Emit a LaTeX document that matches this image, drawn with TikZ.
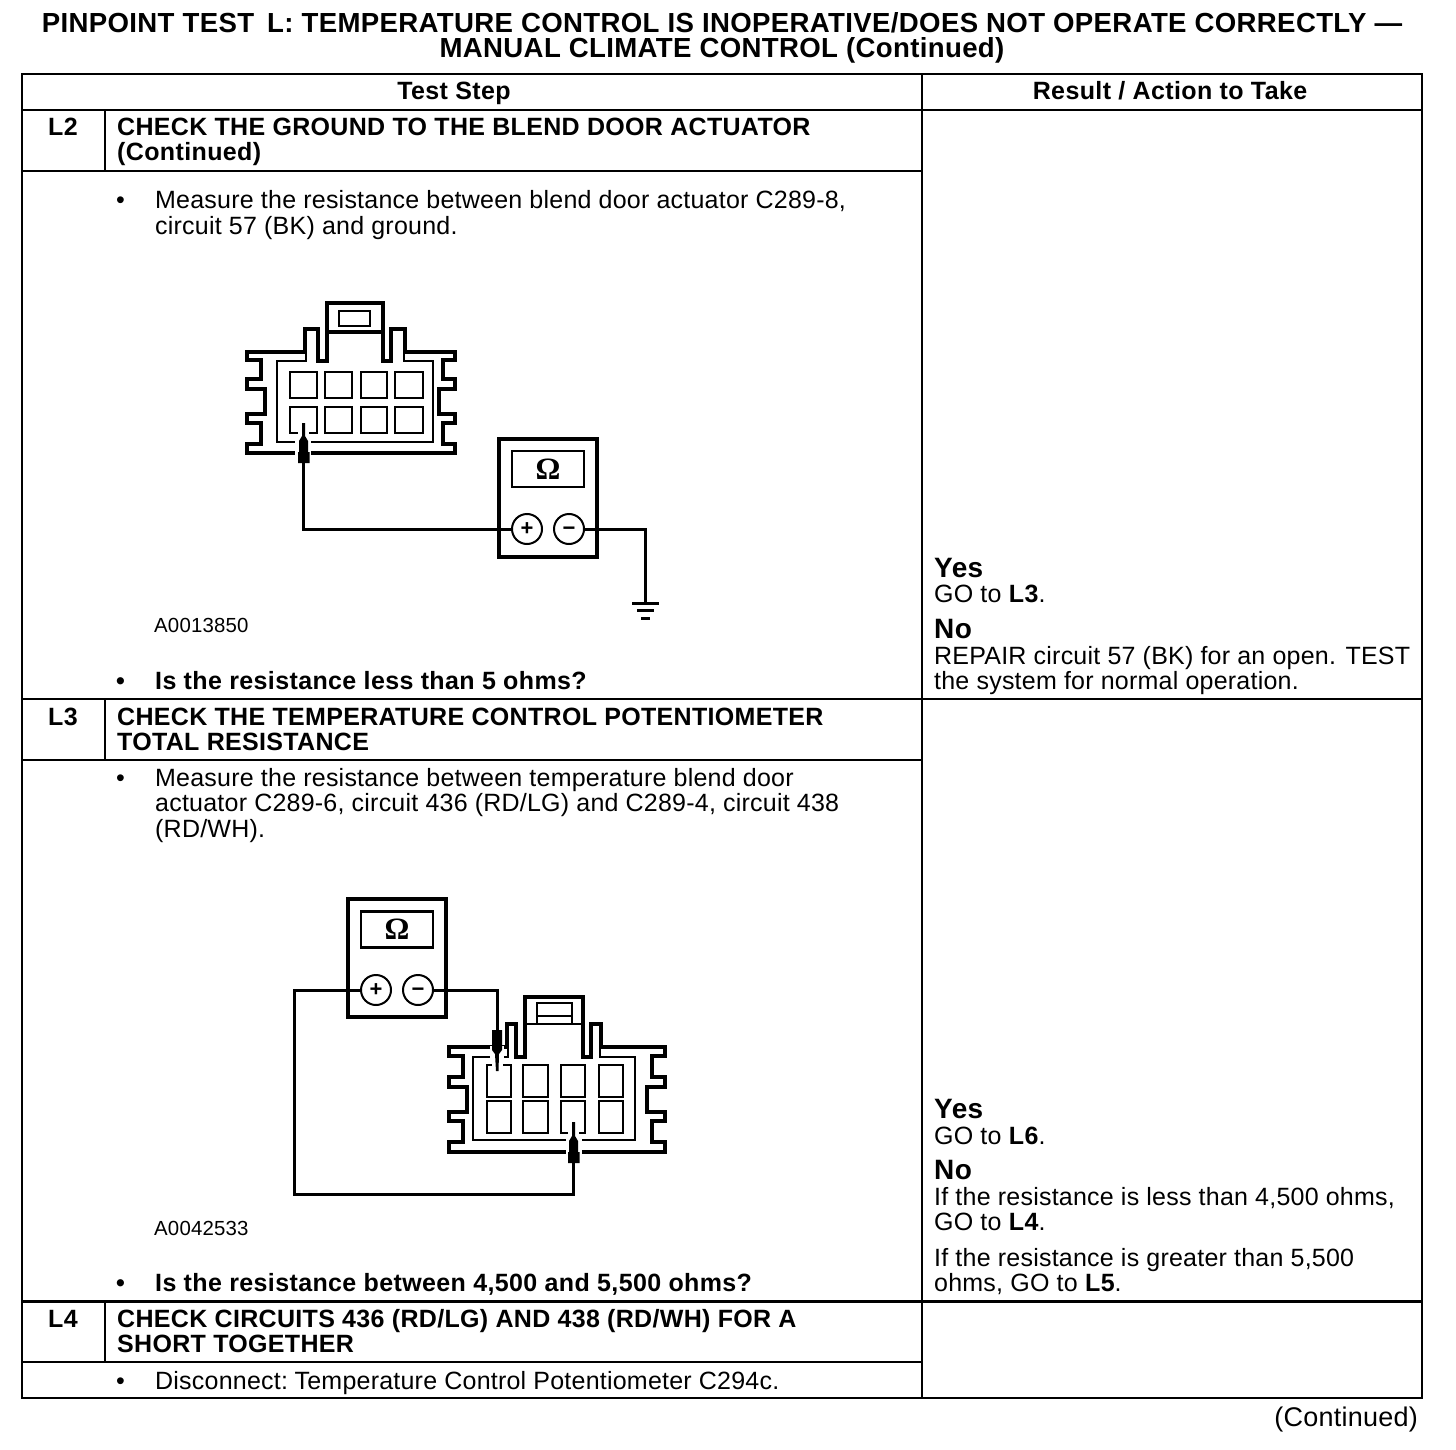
\documentclass[tikz,border=0pt]{standalone}
\usepackage{fontspec}
\setmainfont{Liberation Sans}[LetterSpace=0.9,BoldFeatures={LetterSpace=1.5}]
\newfontfamily\capb{Liberation Sans Bold}[LetterSpace=1.3]
\newfontfamily\titleb{Liberation Sans Bold}[LetterSpace=1.25]
\newfontfamily\omegaf{Liberation Serif Bold}
\begin{document}
\begin{tikzpicture}[x=1pt,y=-1pt,
  txt/.style={inner sep=0pt,anchor=base west,font=\fontsize{25}{25}\selectfont},
  btxt/.style={inner sep=0pt,anchor=base west,font=\fontsize{25}{25}\selectfont\bfseries},
  captxt/.style={inner sep=0pt,anchor=base west,font=\fontsize{25}{25}\selectfont\capb},
  bigb/.style={inner sep=0pt,anchor=base west,font=\fontsize{28}{28}\selectfont\bfseries},
  code/.style={inner sep=0pt,anchor=base west,font=\fontsize{20.4}{22}\selectfont},
  hdr/.style={inner sep=0pt,anchor=base,font=\fontsize{25}{25}\selectfont\bfseries},
  ttl/.style={inner sep=0pt,anchor=base,font=\fontsize{27.6}{28}\selectfont\titleb},
  rule/.style={line width=2pt},
  wire/.style={line width=3pt,line join=miter},
  outer/.style={line width=3.6pt,line join=miter},
  inner/.style={line width=2pt},
  cav/.style={line width=2.4pt},
  meter/.style={draw,line width=3.4pt,inner sep=0pt,minimum width=98pt,minimum height=118pt},
  disp/.style={draw,line width=2.2pt,inner sep=0pt,minimum width=72pt,minimum height=36pt,font=\fontsize{31}{31}\selectfont\omegaf},
  term/.style={draw,circle,line width=2pt,fill=white,inner sep=0pt,minimum size=30pt,font=\fontsize{22}{22}\selectfont\bfseries},
  probe/.style={fill=black,draw=none},
  gapw/.style={draw=white,line width=16pt},
  gapn/.style={draw=white,line width=11pt}]
\useasboundingbox (0,0) rectangle (1456,1450);
\fill[white] (0,0) rectangle (1456,1450);
% title
\node[ttl] (t1) at (722,33) {PINPOINT TEST\hspace{5pt} L: TEMPERATURE CONTROL IS INOPERATIVE/DOES NOT OPERATE CORRECTLY —};
\node[ttl] (t2) at (722,58) {MANUAL CLIMATE CONTROL (Continued)};
% table
\draw[rule] (22,74) rectangle (1422,1398);
\draw[rule] (922,74) -- (922,1398);
\draw[rule] (22,110) -- (1422,110);
\draw[rule] (105,110) -- (105,171);
\draw[rule] (22,171) -- (922,171);
\draw[rule] (22,699) -- (1422,699);
\draw[rule] (105,699) -- (105,760);
\draw[rule] (22,760) -- (922,760);
\draw[line width=3pt] (22,1301) -- (1422,1301);
\draw[rule] (105,1301) -- (105,1362);
\draw[rule] (22,1362) -- (922,1362);
\node[hdr] (h1) at (454,100) {Test Step};
\node[hdr] (h2) at (1170,100) {Result / Action to Take};
% L2
\node[hdr] (l2) at (63,136) {L2};
\node[captxt] (l2a) at (117,136) {CHECK THE GROUND TO THE BLEND DOOR ACTUATOR};
\node[btxt] (l2b) at (117,161) {(Continued)};
\node[txt] (b1) at (116,208) {•};
\node[txt] (m1) at (155,208) {Measure the resistance between blend door actuator C289-8,};
\node[txt] (m2) at (155,234) {circuit 57 (BK) and ground.};
\node[code] (c1) at (154,632) {A0013850};
\node[btxt] (b2) at (116,689) {•};
\node[btxt] (q1) at (155,689) {Is the resistance less than 5 ohms?};
\node[bigb] (y1) at (934,577) {Yes};
\node[txt] (y1a) at (934,602) {GO to \textbf{L3}.};
\node[bigb] (n1) at (934,638) {No};
\node[txt] (n1a) at (934,664) {REPAIR circuit 57 (BK) for an open. TEST};
\node[txt] (n1b) at (934,689) {the system for normal operation.};
% L3
\node[hdr] (l3) at (63,725) {L3};
\node[captxt] (l3a) at (117,725) {CHECK THE TEMPERATURE CONTROL POTENTIOMETER};
\node[captxt] (l3b) at (117,750) {TOTAL RESISTANCE};
\node[txt] (b3) at (116,786) {•};
\node[txt] (m3) at (155,786) {Measure the resistance between temperature blend door};
\node[txt] (m4) at (155,811) {actuator C289-6, circuit 436 (RD/LG) and C289-4, circuit 438};
\node[txt] (m5) at (155,837) {(RD/WH).};
\node[code] (c2) at (154,1235) {A0042533};
\node[btxt] (b4) at (116,1291) {•};
\node[btxt] (q2) at (155,1291) {Is the resistance between 4,500 and 5,500 ohms?};
\node[bigb] (y2) at (934,1118) {Yes};
\node[txt] (y2a) at (934,1144) {GO to \textbf{L6}.};
\node[bigb] (n2) at (934,1179) {No};
\node[txt] (n2a) at (934,1205) {If the resistance is less than 4,500 ohms,};
\node[txt] (n2b) at (934,1230) {GO to \textbf{L4}.};
\node[txt] (n2c) at (934,1266) {If the resistance is greater than 5,500};
\node[txt] (n2d) at (934,1291) {ohms, GO to \textbf{L5}.};
% L4
\node[hdr] (l4) at (63,1327) {L4};
\node[captxt] (l4a) at (117,1327) {CHECK CIRCUITS 436 (RD/LG) AND 438 (RD/WH) FOR A};
\node[captxt] (l4b) at (117,1352) {SHORT TOGETHER};
\node[txt] (b5) at (116,1389) {•};
\node[txt] (m6) at (155,1389) {Disconnect:\hspace{-3pt} Temperature Control Potentiometer C294c.};
\node[txt,anchor=base east,font=\fontsize{27}{27}\selectfont] (cont) at (1418,1426) {(Continued)};
% connector 1
\draw[outer] (247,352) -- (247,360) -- (261,360) -- (261,379) -- (247,379) -- (247,389) -- (265,389) -- (265,414) -- (247,414) -- (247,423) -- (261,423) -- (261,444) -- (247,444) -- (247,453) -- (455,453) -- (455,444) -- (443,444) -- (443,423) -- (455,423) -- (455,414) -- (439,414) -- (439,389) -- (455,389) -- (455,379) -- (443,379) -- (443,360) -- (455,360) -- (455,352) -- (405,352) -- (405,329) -- (391,329) -- (391,361) -- (383,361) -- (383,303) -- (327,303) -- (327,361) -- (318,361) -- (318,329) -- (305,329) -- (305,352) -- cycle;
\draw[outer] (327,332) -- (383,332);
\draw[cav] (339,311) rectangle (370,326);
\draw[inner] (306,352) -- (306,361) -- (277,361) -- (277,442) -- (433,442) -- (433,361) -- (404,361) -- (404,352);
\foreach \x/\w in {290/317,325/352,361/387,395/423}{
  \draw[cav] (\x,372) rectangle (\w,398);
  \draw[cav] (\x,407) rectangle (\w,433);
}
\draw[gapn] (303,428) -- (303,438);
\draw[gapw] (303,438) -- (303,458);
% meter 1
\node[meter] (mt1) at (548,498) {};
\node[disp] (d1) at (548,469) {Ω};
\node[term] (p1) at (527,529) {\vphantom{+}+};
\node[term] (n1t) at (569,529) {\vphantom{+}−};
\coordinate (tip1) at (303,463);
\coordinate (g1) at (645,603);
\draw[wire] (p1.west) -- (303,529) -- (tip1);
\draw[wire] (n1t.east) -- (645,529) -- (g1);
\draw[probe] (302,423) -- (305,423) -- (305,436) -- (308,441) -- (308,452) -- (309.5,452) -- (309.5,463) -- (298,463) -- (298,452) -- (299,452) -- (299,441) -- (302,436) -- cycle;
\draw[line width=3pt] (632,603) -- (659,603);
\draw[line width=3pt] (637,610.5) -- (654,610.5);
\draw[line width=3pt] (641,618) -- (650,618);
% connector 2
\draw[outer] (449,1047) -- (449,1056) -- (463,1056) -- (463,1077) -- (449,1077) -- (449,1087) -- (467,1087) -- (467,1112) -- (449,1112) -- (449,1121) -- (463,1121) -- (463,1142) -- (449,1142) -- (449,1152) -- (665,1152) -- (665,1142) -- (652,1142) -- (652,1121) -- (665,1121) -- (665,1112) -- (647,1112) -- (647,1087) -- (665,1087) -- (665,1077) -- (652,1077) -- (652,1056) -- (665,1056) -- (665,1047) -- (601,1047) -- (601,1024) -- (591,1024) -- (591,1057) -- (583,1057) -- (583,997) -- (525,997) -- (525,1057) -- (516,1057) -- (516,1024) -- (507,1024) -- (507,1047) -- cycle;
\draw[inner] (525,1024) -- (583,1024);
\draw[inner] (537,1024) -- (537,1003) -- (572,1003) -- (572,1024);
\draw[cav] (537,1016) -- (572,1016);
\draw[inner] (508,1047) -- (508,1057) -- (473,1057) -- (473,1140) -- (635,1140) -- (635,1057) -- (600,1057) -- (600,1047);
\foreach \x/\w in {487/511,523/548,561/585,599/623}{
  \draw[cav] (\x,1065) rectangle (\w,1097);
  \draw[cav] (\x,1101) rectangle (\w,1133);
}
\draw[draw=white,line width=14pt] (497,1046) -- (497,1059);
\draw[gapn] (497,1060) -- (497,1068);
\draw[gapn] (573.5,1128) -- (573.5,1136);
\draw[gapw] (573.5,1136) -- (573.5,1158);
% meter 2
\node[meter] (mt2) at (397,958) {};
\node[disp] (d2) at (397,929.5) {Ω};
\node[term] (p2) at (376,990) {\vphantom{+}+};
\node[term] (n2t) at (418,990) {\vphantom{+}−};
\coordinate (tip2) at (497,1031);
\coordinate (tip3) at (573.5,1162);
\draw[wire] (n2t.east) -- (497,990) -- (tip2);
\draw[wire] (p2.west) -- (294,990) -- (294,1194) -- (573.5,1194) -- (tip3);
\draw[probe] (496,1071) -- (498.5,1071) -- (499,1054) -- (502,1050) -- (502,1030) -- (492,1030) -- (492,1050) -- (495,1054) -- cycle;
\draw[probe] (572,1122) -- (575,1122) -- (575,1136) -- (578,1141) -- (578,1152) -- (579.5,1152) -- (579.5,1163) -- (568,1163) -- (568,1152) -- (569,1152) -- (569,1141) -- (572,1136) -- cycle;
\end{tikzpicture}
\end{document}
